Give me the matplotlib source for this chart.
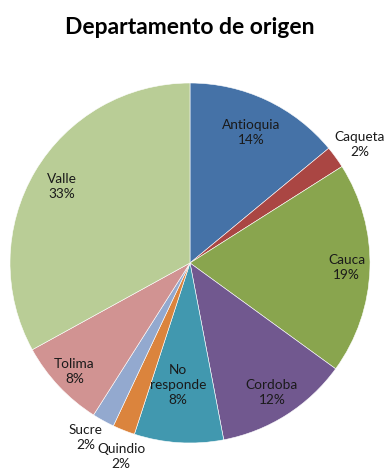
import numpy as np
import matplotlib.pyplot as plt

# data
departamentos = ['Antioquia', 'Caqueta', 'Cauca', 'Cordoba', 'No\nresponde',
                 'Quindio', 'Sucre', 'Tolima', 'Valle']
porcentajes = [14, 2, 19, 12, 8, 2, 2, 8, 33]
colores = ['#4572A7', '#AA4643', '#89A54E', '#71588F', '#4198AF',
           '#DB843D', '#93A9CF', '#D19392', '#B9CD96']

# where each label sits, as a fraction of the radius
distancias = [0.80, 1.15, 0.87, 0.85, 0.68, 1.14, 1.13, 0.88, 0.83]
giros = [0, -1, 0, 0, -2, 2, -2, 0, 0]  # small angular nudges, degrees

plt.rcParams['font.family'] = ['Lato', 'DejaVu Sans']

fig = plt.figure(figsize=(3.85, 4.7), dpi=100)
ax = fig.add_axes([0, 0, 1, 1])

centro = (190, 207)
radio = 180
wedges, _ = ax.pie(porcentajes, colors=colores, startangle=90, counterclock=False,
                   center=centro, radius=radio, frame=True,
                   wedgeprops=dict(edgecolor='white', linewidth=0.4))
ax.set_xlim(0, 385)
ax.set_ylim(0, 470)
ax.set_aspect('equal')
ax.axis('off')

for w, nombre, pct, d, g in zip(wedges, departamentos, porcentajes, distancias, giros):
    ang = np.deg2rad((w.theta1 + w.theta2) / 2 + g)
    x = centro[0] + d * radio * np.cos(ang)
    y = centro[1] + d * radio * np.sin(ang)
    ax.text(x, y, f'{nombre}\n{pct}%', ha='center', va='center',
            fontsize=9.8, color='#1a1a1a', linespacing=1.3)

ax.text(190, 442, 'Departamento de origen', ha='center', va='center',
        fontsize=16.5, fontweight='bold', color='black')

fig.savefig('out.png', dpi=100)
